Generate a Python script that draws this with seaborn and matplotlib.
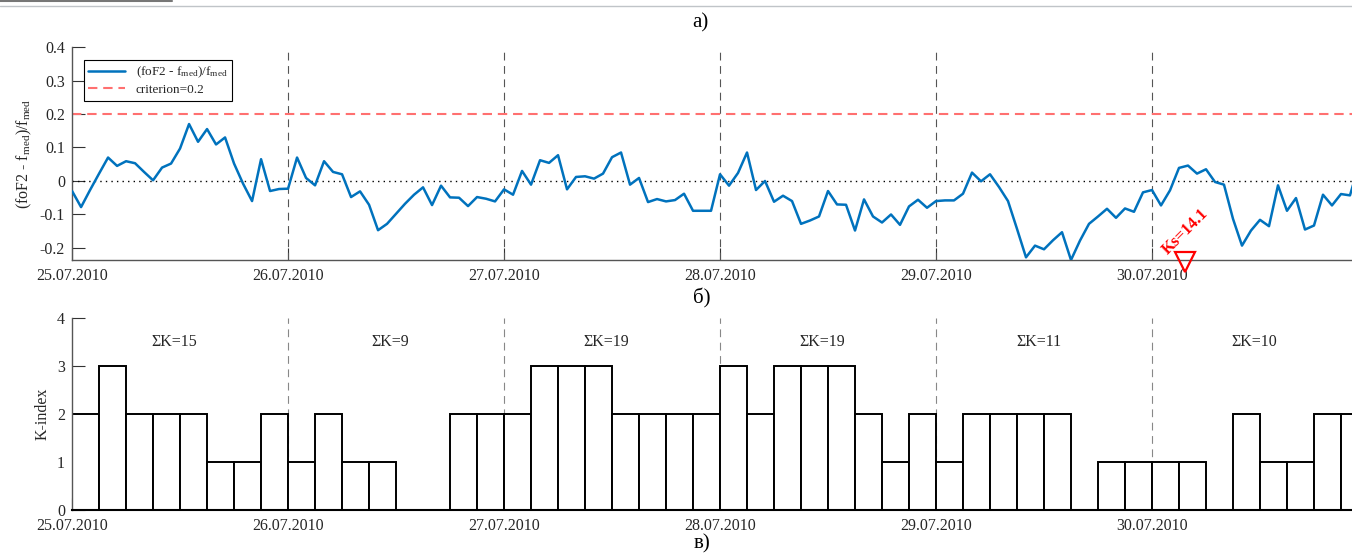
import numpy as np
import pandas as pd
import matplotlib
matplotlib.use("Agg")
import matplotlib.pyplot as plt
from matplotlib.lines import Line2D
import seaborn as sns

# hourly (foF2 - fmed)/fmed, 25.07.2010 00UT onwards
dev_day1 = [-0.030, -0.078, -0.027, 0.022, 0.070, 0.045, 0.059, 0.053, 0.027, 0.002, 0.040, 0.052,
            0.097, 0.170, 0.117, 0.155, 0.109, 0.130, 0.052, -0.008, -0.060, 0.065, -0.030, -0.024]
dev_day2 = [-0.023, 0.070, 0.009, -0.013, 0.059, 0.027, 0.020, -0.048, -0.031, -0.071, -0.147, -0.128,
            -0.098, -0.068, -0.041, -0.019, -0.072, -0.014, -0.049, -0.050, -0.075, -0.048, -0.053, -0.061]
dev_day3 = [-0.025, -0.041, 0.030, -0.011, 0.062, 0.054, 0.077, -0.025, 0.012, 0.014, 0.007, 0.022,
            0.071, 0.085, -0.011, 0.009, -0.063, -0.054, -0.061, -0.057, -0.038, -0.089, -0.089, -0.089]
dev_day4 = [0.020, -0.014, 0.024, 0.085, -0.027, 0.000, -0.062, -0.044, -0.060, -0.128, -0.118, -0.106,
            -0.030, -0.070, -0.071, -0.148, -0.055, -0.106, -0.124, -0.100, -0.131, -0.076, -0.056, -0.080]
dev_day5 = [-0.060, -0.058, -0.058, -0.038, 0.025, -0.001, 0.020, -0.018, -0.060, -0.143, -0.228, -0.193,
            -0.204, -0.177, -0.153, -0.236, -0.178, -0.128, -0.106, -0.083, -0.110, -0.082, -0.092, -0.034]
dev_day6 = [-0.027, -0.073, -0.028, 0.039, 0.046, 0.022, 0.035, -0.003, -0.011, -0.113, -0.193, -0.148,
            -0.116, -0.135, -0.013, -0.089, -0.051, -0.145, -0.133, -0.041, -0.073, -0.039, -0.043, 0.050]

# 3-hour K-index, 8 per day
k_index = [2, 3, 2, 2, 2, 1, 1, 2,
           1, 2, 1, 1, 0, 0, 2, 2,
           2, 3, 3, 3, 2, 2, 2, 2,
           3, 2, 3, 3, 3, 2, 1, 2,
           1, 2, 2, 2, 2, 0, 1, 1,
           1, 1, 0, 2, 1, 1, 2, 2]
day_sums = ["ΣK=15", "ΣK=9", "ΣK=19", "ΣK=19", "ΣK=11", "ΣK=10"]
day_labels = ["25.07.2010", "26.07.2010", "27.07.2010", "28.07.2010", "29.07.2010", "30.07.2010"]
criterion = 0.2
ks_value = "Ks=14.1"
ks_time = 5.155  # days from 25.07 00UT

dev = dev_day1 + dev_day2 + dev_day3 + dev_day4 + dev_day5 + dev_day6
df = pd.DataFrame({"t": np.arange(len(dev)) / 24.0, "dev": dev})
kdf = pd.DataFrame({"t": np.arange(len(k_index)) / 8.0 + 1 / 16, "K": k_index})

sns.set_style("white")
plt.rcParams["font.family"] = ["Liberation Serif", "DejaVu Serif"]
plt.rcParams["mathtext.fontset"] = "custom"
plt.rcParams["mathtext.rm"] = "Liberation Serif"
plt.rcParams["mathtext.it"] = "Liberation Serif"

txt = "#262626"
xmax = 5.926

fig = plt.figure(figsize=(13.52, 5.55), dpi=100)
ax1 = fig.add_axes([0.0533, 0.5315, 0.9467, 0.3838])
ax2 = fig.add_axes([0.0533, 0.0811, 0.9467, 0.3459])

# top panel
for d in range(1, 6):
    ax1.axvline(d, color="#555555", lw=0.8, ls=(0, (7, 5)), zorder=1)
ax1.axhline(0, color="black", lw=1.0, ls=(0, (1, 3)), zorder=1)
sns.lineplot(data=df, x="t", y="dev", ax=ax1, color="#0072BD", lw=1.8,
             label="(foF2 - f$_{\\rm med}$)/f$_{\\rm med}$", zorder=3)
ax1.axhline(criterion, color="#ff7070", lw=1.5, ls=(0, (4.5, 2.8)),
            label="criterion=0.2", zorder=2)
ax1.plot([ks_time], [-0.243], marker="v", ms=14, mfc="none", mec="red", mew=1.6,
         ls="none", clip_on=False, zorder=5)
ax1.text(ks_time, -0.150, ks_value, color="red", fontsize=12, fontweight="bold",
         rotation=45, ha="center", va="center")
ax1.set_xlim(0, xmax)
ax1.set_ylim(-0.236, 0.4)
ax1.set_yticks([-0.2, -0.1, 0, 0.1, 0.2, 0.3, 0.4])
ax1.set_yticklabels(["-0.2", "-0.1", "0", "0.1", "0.2", "0.3", "0.4"])
ax1.set_xticks(range(6))
ax1.set_xticklabels(day_labels)
ax1.set_xlabel("")
ax1.set_ylabel("(foF2 - f$_{\\rm med}$)/f$_{\\rm med}$", fontsize=11.5, color=txt)
ax1.yaxis.set_label_coords(-0.030, 0.5)
leg = ax1.legend(loc="upper left", bbox_to_anchor=(0.009, 0.94), borderaxespad=0,
                 fontsize=9.5, frameon=True, fancybox=False, framealpha=1,
                 edgecolor="black", handlelength=2.8, borderpad=0.35, labelspacing=0.3)
leg.get_frame().set_linewidth(0.8)

# bottom panel
for d in range(1, 6):
    ax2.axvline(d, color="#888888", lw=0.8, ls=(0, (7, 5)), zorder=0)
sns.histplot(data=kdf, x="t", weights="K", bins=48, binrange=(0, 6), ax=ax2,
             color="white", edgecolor="black", linewidth=1.4, alpha=1, zorder=2)
for d, s in enumerate(day_sums):
    ax2.text(d + 0.475, 3.5, s, fontsize=11.5, color=txt, ha="center", va="center")
ax2.set_xlim(0, xmax)
ax2.set_ylim(0, 4)
ax2.set_yticks([0, 1, 2, 3, 4])
ax2.set_xticks(range(6))
ax2.set_xticklabels(day_labels)
ax2.set_xlabel("")
ax2.set_ylabel("K-index", fontsize=11.5, color=txt)
ax2.yaxis.set_label_coords(-0.017, 0.5)

for ax in (ax1, ax2):
    for side in ("top", "right"):
        ax.spines[side].set_visible(False)
    for side in ("left", "bottom"):
        ax.spines[side].set_color("#555555")
        ax.spines[side].set_linewidth(1.0)
    ax.tick_params(axis="both", direction="in", length=9, width=0.8, color="#333333",
                   labelsize=11.5, labelcolor=txt, pad=5, bottom=True, left=True)
    ax.tick_params(axis="x", pad=6)
ax2.spines["bottom"].set_color("black")
ax2.spines["bottom"].set_linewidth(1.5)

fig.text(0.518, 0.958, "а)", fontsize=15, ha="center", va="center", color="black")
fig.text(0.519, 0.462, "б)", fontsize=15, ha="center", va="center", color="black")
fig.text(0.519, 0.020, "в)", fontsize=15, ha="center", va="center", color="black")

# window frame remnants at the top edge
fig.add_artist(Line2D([0, 1], [0.989, 0.989], color="#c0c4c8", lw=1.0))
fig.add_artist(Line2D([0, 0.127], [0.999, 0.999], color="#777777", lw=1.5))

fig.savefig("out.png", dpi=100)
